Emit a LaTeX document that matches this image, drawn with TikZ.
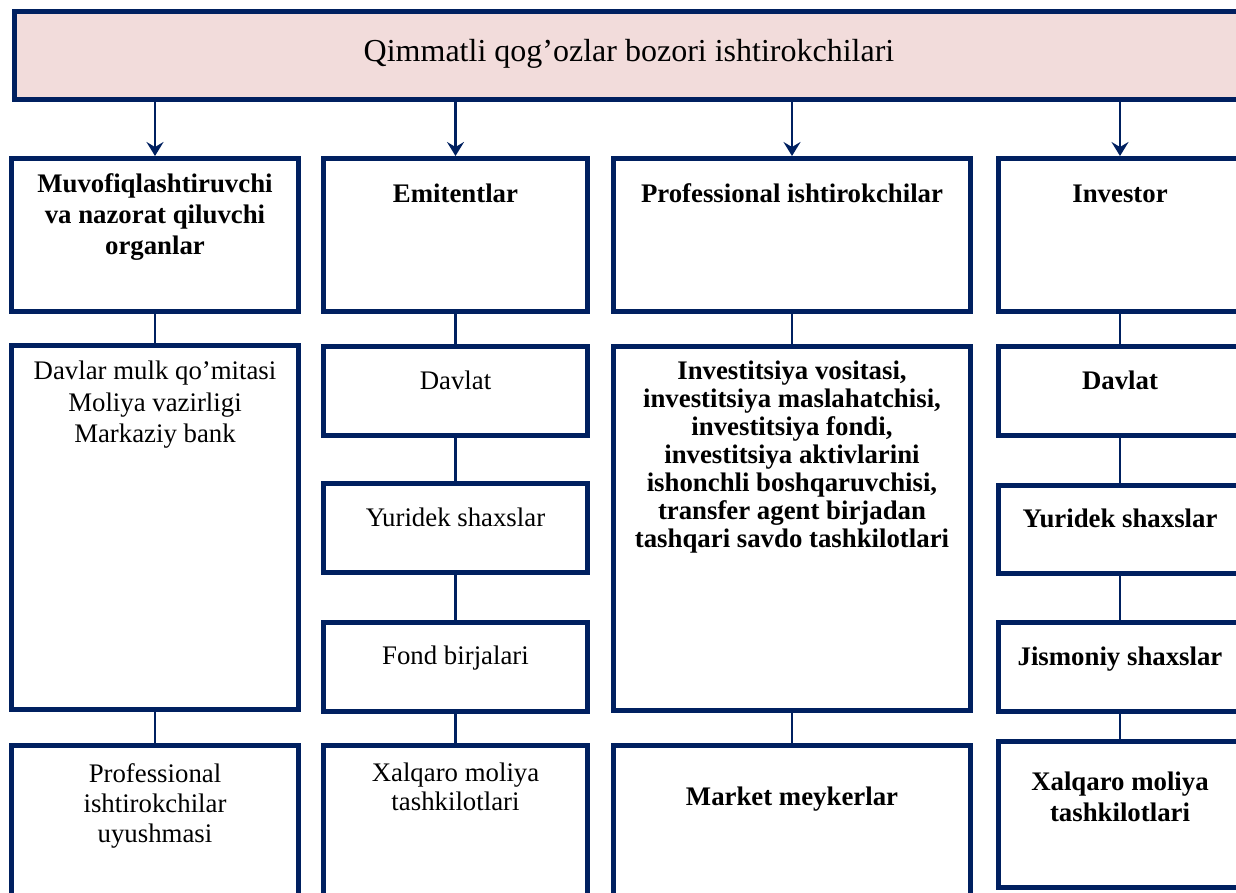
\documentclass[tikz,border=0pt]{standalone}
\usepackage{fontspec}
\setmainfont{Liberation Serif}
\usetikzlibrary{arrows.meta}
\definecolor{navy}{RGB}{0,32,96}
\definecolor{rose}{RGB}{242,220,219}
\begin{document}
\begin{tikzpicture}[x=1pt,y=-1pt,
  box/.style={draw=navy,line width=5pt,fill=white,inner sep=0pt,outer sep=0pt,rectangle},
  txt/.style={align=center,inner sep=0pt,font=\fontsize{26.8}{31}\selectfont},
  btxt/.style={align=center,inner sep=0pt,font=\fontsize{26.8}{31}\selectfont\bfseries},
  link/.style={draw=navy,line width=2.6pt,shorten <=2.5pt,shorten >=2.5pt},
  feed/.style={link,-{Stealth[length=14pt,width=17pt,inset=5pt]}}
]
\useasboundingbox (0,0) rectangle (1236,892);
\begin{scope}
\clip (0,0) rectangle (1236,892);

% heading
\node[box,fill=rose,minimum width=1229pt,minimum height=88pt] (top) at (629,55.5) {};

% first row: the four groups
\node[box,minimum width=287pt,minimum height=153pt] (c1h) at (155,235) {};
\node[box,minimum width=264pt,minimum height=153pt] (c2h) at (455.5,235) {};
\node[box,minimum width=357pt,minimum height=153pt] (c3h) at (792,235) {};
\node[box,minimum width=243pt,minimum height=153pt] (c4h) at (1120,235) {};

% second row
\node[box,minimum width=287pt,minimum height=364pt] (c1a) at (155,527.5) {};
\node[box,minimum width=264pt,minimum height=89pt] (c2a) at (455.5,391) {};
\node[box,minimum width=264pt,minimum height=89pt] (c2b) at (455.5,528) {};
\node[box,minimum width=264pt,minimum height=89pt] (c2c) at (455.5,667) {};
\node[box,minimum width=357pt,minimum height=364pt] (c3a) at (792,528.5) {};
\node[box,minimum width=243pt,minimum height=89pt] (c4a) at (1120,391) {};
\node[box,minimum width=243pt,minimum height=88pt] (c4b) at (1120,529.5) {};
\node[box,minimum width=243pt,minimum height=89pt] (c4c) at (1120,667) {};

% third row
\node[box,minimum width=287pt,minimum height=182pt] (c1b) at (155,836.5) {};
\node[box,minimum width=264pt,minimum height=182pt] (c2d) at (455.5,836.5) {};
\node[box,minimum width=357pt,minimum height=182pt] (c3b) at (792,836.5) {};
\node[box,minimum width=243pt,minimum height=146pt] (c4d) at (1120,814.5) {};

% arrows from the heading
\draw[feed] (top.south -| c1h.north) -- (c1h.north);
\draw[feed] (top.south -| c2h.north) -- (c2h.north);
\draw[feed] (top.south -| c3h.north) -- (c3h.north);
\draw[feed] (top.south -| c4h.north) -- (c4h.north);

% vertical links inside each column
\draw[link] (c1h.south) -- (c1a.north);
\draw[link] (c1a.south) -- (c1b.north);
\draw[link] (c2h.south) -- (c2a.north);
\draw[link] (c2a.south) -- (c2b.north);
\draw[link] (c2b.south) -- (c2c.north);
\draw[link] (c2c.south) -- (c2d.north);
\draw[link] (c3h.south) -- (c3a.north);
\draw[link] (c3a.south) -- (c3b.north);
\draw[link] (c4h.south) -- (c4a.north);
\draw[link] (c4a.south) -- (c4b.north);
\draw[link] (c4b.south) -- (c4c.north);
\draw[link] (c4c.south) -- (c4d.north);

% texts
\node[txt,anchor=base,font=\fontsize{32}{36}\selectfont] (t-top) at (629,61) {Qimmatli qog’ozlar bozori ishtirokchilari};

\node[btxt,anchor=north] (t-c1h) at (155,173) {Muvofiqlashtiruvchi\\va nazorat qiluvchi\\organlar};
\node[btxt,anchor=base] (t-c2h) at (455.5,202) {Emitentlar};
\node[btxt,anchor=base] (t-c3h) at (792,202) {Professional ishtirokchilar};
\node[btxt,anchor=base] (t-c4h) at (1120,202) {Investor};

\node[txt,anchor=north,font=\fontsize{26.8}{31.5}\selectfont] (t-c1a) at (155,361) {Davlar mulk qo’mitasi\\Moliya vazirligi\\Markaziy bank};
\node[txt,anchor=base] (t-c2a) at (455.5,389) {Davlat};
\node[txt,anchor=base] (t-c2b) at (455.5,526) {Yuridek shaxslar};
\node[txt,anchor=base] (t-c2c) at (455.5,664) {Fond birjalari};
\node[btxt,anchor=north,font=\fontsize{26.8}{28}\selectfont\bfseries] (t-c3a) at (792,361) {Investitsiya vositasi,\\investitsiya maslahatchisi,\\investitsiya fondi,\\investitsiya aktivlarini\\ishonchli boshqaruvchisi,\\transfer agent birjadan\\tashqari savdo tashkilotlari};
\node[btxt,anchor=base] (t-c4a) at (1120,389) {Davlat};
\node[btxt,anchor=base] (t-c4b) at (1120,527) {Yuridek shaxslar};
\node[btxt,anchor=base] (t-c4c) at (1120,665) {Jismoniy shaxslar};

\node[txt,anchor=north,font=\fontsize{26.8}{30}\selectfont] (t-c1b) at (155,763) {Professional\\ishtirokchilar\\uyushmasi};
\node[txt,anchor=north,font=\fontsize{26.8}{29}\selectfont] (t-c2d) at (455.5,763) {Xalqaro moliya\\tashkilotlari};
\node[btxt,anchor=base] (t-c3b) at (792,805) {Market meykerlar};
\node[btxt,anchor=north,font=\fontsize{26.8}{31}\selectfont\bfseries] (t-c4d) at (1120,772) {Xalqaro moliya\\tashkilotlari};
\end{scope}
\end{tikzpicture}
\end{document}
